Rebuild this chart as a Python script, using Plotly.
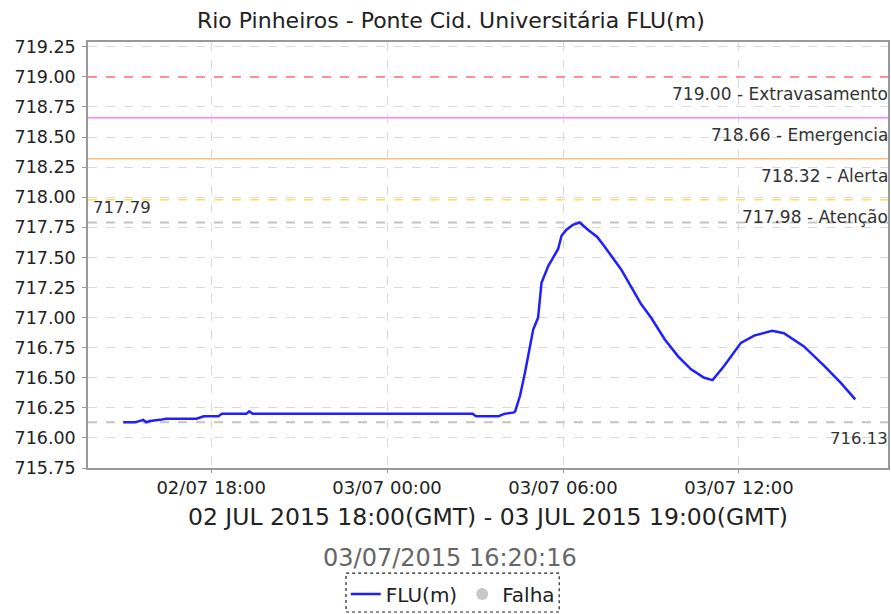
import plotly.graph_objects as go

# ---- data ----
times = [
    "2015-07-02 15:00", "2015-07-02 15:25", "2015-07-02 15:33", "2015-07-02 15:41",
    "2015-07-02 15:47", "2015-07-02 15:55", "2015-07-02 16:15", "2015-07-02 16:28",
    "2015-07-02 17:30", "2015-07-02 17:38", "2015-07-02 17:45", "2015-07-02 18:15",
    "2015-07-02 18:22", "2015-07-02 19:12", "2015-07-02 19:18", "2015-07-02 19:25",
    "2015-07-03 02:55", "2015-07-03 03:02", "2015-07-03 03:48", "2015-07-03 04:00",
    "2015-07-03 04:18", "2015-07-03 04:22", "2015-07-03 04:32", "2015-07-03 04:42",
    "2015-07-03 04:52", "2015-07-03 04:59", "2015-07-03 05:09", "2015-07-03 05:16",
    "2015-07-03 05:30", "2015-07-03 05:50", "2015-07-03 05:57", "2015-07-03 06:07",
    "2015-07-03 06:20", "2015-07-03 06:34", "2015-07-03 06:51", "2015-07-03 07:10",
    "2015-07-03 07:25", "2015-07-03 07:59", "2015-07-03 08:26", "2015-07-03 08:40",
    "2015-07-03 09:00", "2015-07-03 09:28", "2015-07-03 09:55", "2015-07-03 10:22",
    "2015-07-03 10:49", "2015-07-03 11:06", "2015-07-03 11:30", "2015-07-03 12:04",
    "2015-07-03 12:31", "2015-07-03 13:08", "2015-07-03 13:32", "2015-07-03 14:13",
    "2015-07-03 14:54", "2015-07-03 15:28", "2015-07-03 15:58",
]
flu_values = [
    716.13, 716.13, 716.14, 716.15,
    716.13, 716.14, 716.15, 716.16,
    716.16, 716.17, 716.18, 716.18,
    716.20, 716.20, 716.22, 716.20,
    716.20, 716.18, 716.18, 716.20,
    716.21, 716.22, 716.35, 716.54,
    716.76, 716.90, 717.00, 717.29,
    717.43, 717.57, 717.68, 717.73,
    717.77, 717.79, 717.73, 717.67,
    717.59, 717.40, 717.21, 717.11,
    717.00, 716.82, 716.68, 716.57,
    716.50, 716.48, 716.60, 716.79,
    716.85, 716.89, 716.87, 716.76,
    716.60, 716.46, 716.32,
]
# no failure readings in this period
falha_times = [None]
falha_values = [None]

threshold_values = [719.00, 718.66, 718.32, 717.98]
threshold_names = ["Extravasamento", "Emergencia", "Alerta", "Atenção"]
threshold_colors = ["#ff7373", "#ff80ff", "#ffc080", "#ffdc5c"]
threshold_dash = ["dash", "solid", "solid", "dash"]

max_value = 717.79
min_value = 716.13

y_ticks = [715.75, 716.00, 716.25, 716.50, 716.75, 717.00, 717.25, 717.50,
           717.75, 718.00, 718.25, 718.50, 718.75, 719.00, 719.25]

title_text = "Rio Pinheiros - Ponte Cid. Universitária FLU(m)"
subtitle_text = "02 JUL 2015 18:00(GMT) - 03 JUL 2015 19:00(GMT)"
timestamp_text = "03/07/2015 16:20:16"

FONT = "DejaVu Sans"

fig = go.Figure()

fig.add_trace(go.Scatter(
    x=times, y=flu_values, mode="lines", name="FLU(m)",
    line=dict(color="#1f1fff", width=2.5),
))
fig.add_trace(go.Scatter(
    x=falha_times, y=falha_values, mode="markers", name="Falha",
    marker=dict(color="#c8c8c8", size=12),
))

# threshold lines and labels
for v, n, c, d in zip(threshold_values, threshold_names, threshold_colors, threshold_dash):
    fig.add_shape(type="line", xref="paper", x0=0, x1=1, yref="y", y0=v, y1=v,
                  line=dict(color=c, width=1.5, dash=d), layer="above")
    fig.add_annotation(xref="paper", x=1.002, yref="y", y=v, yanchor="top",
                       xanchor="right", yshift=-5, showarrow=False,
                       text=f"{v:.2f} - {n}",
                       font=dict(family=FONT, size=17, color="#333333"))

# max / min lines
for v in (max_value, min_value):
    fig.add_shape(type="line", xref="paper", x0=0, x1=1, yref="y", y0=v, y1=v,
                  line=dict(color="#c4c4c4", width=2, dash="dash"), layer="below")
fig.add_annotation(xref="paper", x=0.004, yref="y", y=max_value, yanchor="bottom",
                   xanchor="left", yshift=4, showarrow=False, text=f"{max_value:.2f}",
                   font=dict(family=FONT, size=16.5, color="#333333"))
fig.add_annotation(xref="paper", x=1.002, yref="y", y=min_value, yanchor="top",
                   xanchor="right", yshift=-5, showarrow=False, text=f"{min_value:.2f}",
                   font=dict(family=FONT, size=16.5, color="#333333"))

# subtitle & timestamp
fig.add_annotation(xref="paper", x=0.5, yref="paper", y=-0.115, showarrow=False,
                   text=subtitle_text, xanchor="center", yanchor="middle",
                   font=dict(family=FONT, size=23.5, color="#222222"))
fig.add_annotation(xref="paper", x=0.453, yref="paper", y=-0.212, showarrow=False,
                   text=timestamp_text, xanchor="center", yanchor="middle",
                   font=dict(family=FONT, size=24, color="#666666"))

# dashed legend box
fig.add_shape(type="rect", xref="paper", yref="paper",
              x0=0.3225, x1=0.589, y0=-0.338, y1=-0.247,
              line=dict(color="#222222", width=1.2, dash="dot"))

fig.update_layout(
    width=891, height=614,
    margin=dict(l=88, r=1, t=42, b=146),
    paper_bgcolor="white", plot_bgcolor="white",
    font=dict(family=FONT, color="#222222"),
    title=dict(text=title_text, x=0.506, xanchor="center", y=0.967, yanchor="middle",
               font=dict(family=FONT, size=22, color="#222222")),
    showlegend=True,
    legend=dict(orientation="h", x=0.456, xanchor="center", y=-0.25, yanchor="top",
                font=dict(family=FONT, size=20, color="#222222"),
                bgcolor="rgba(0,0,0,0)", borderwidth=0, itemwidth=30),
    xaxis=dict(
        type="date",
        range=["2015-07-02 13:48", "2015-07-03 17:05"],
        tick0="2015-07-02 18:00", dtick=6 * 3600 * 1000,
        tickformat="%d/%m %H:%M",
        showgrid=True, gridcolor="#d9d9d9", griddash="dash", gridwidth=1,
        showline=True, linecolor="#999999", linewidth=1.5, mirror=True,
        ticks="outside", ticklen=3, tickcolor="#999999",
        tickfont=dict(family=FONT, size=18, color="#222222"),
        zeroline=False,
    ),
    yaxis=dict(
        range=[715.75, 719.29],
        tickmode="array", tickvals=y_ticks,
        ticktext=[f"{t:.2f}" for t in y_ticks],
        showgrid=True, gridcolor="#d9d9d9", griddash="dash", gridwidth=1,
        showline=True, linecolor="#999999", linewidth=1.5, mirror=True,
        ticks="outside", ticklen=4, tickcolor="#999999",
        tickfont=dict(family=FONT, size=17.5, color="#222222"),
        ticklabelstandoff=3,
        zeroline=False,
    ),
)

fig.write_html("out.html", config={"displayModeBar": False},
               post_script="document.body.style.margin='0';document.body.style.overflow='hidden';")
